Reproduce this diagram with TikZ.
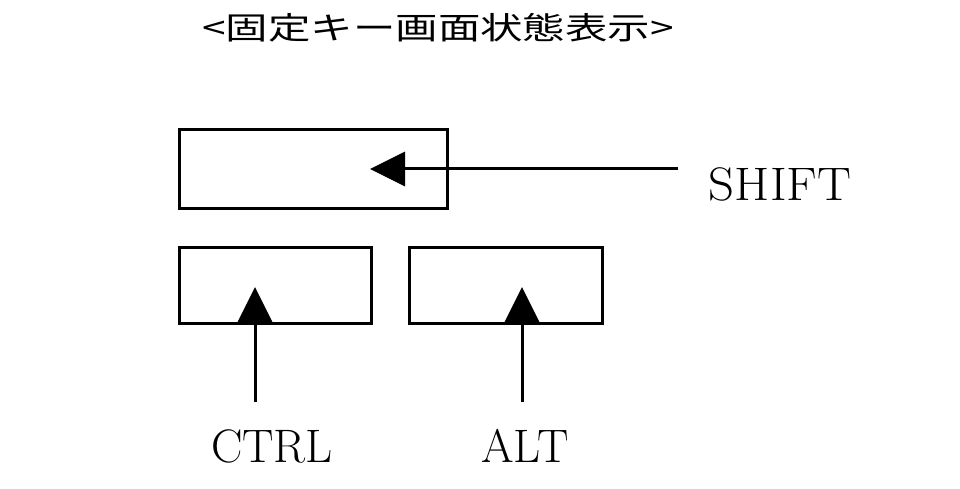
\documentclass[tikz,border=0pt]{standalone}
\usepackage{fontspec}
\newfontfamily\cjk{Noto Sans CJK JP}
\usetikzlibrary{arrows.meta}
\begin{document}
\begin{tikzpicture}[x=1pt,y=-1pt,
  keybox/.style={draw,line width=3pt,inner sep=0pt},
  ptr/.style={line width=3pt,-{Triangle[length=35pt,width=34pt]}},
  lbl/.style={font=\fontsize{47}{50}\selectfont,inner sep=0pt}]
\useasboundingbox (0,0) rectangle (960,489);
\node[inner sep=0pt] (title) at (438,28) {\scalebox{1.37}[1]{\cjk\fontsize{31}{34}\selectfont <固定キー画面状態表示>}};
\node[keybox,minimum width=268pt,minimum height=78pt] (shiftbox) at (313.5,169) {};
\node[keybox,minimum width=192pt,minimum height=76pt] (ctrlbox) at (275.5,285) {};
\node[keybox,minimum width=193pt,minimum height=76pt] (altbox) at (506,285) {};
\node[lbl] (shift) at (780,184) {\scalebox{1.08}[1]{SHIFT}};
\node[lbl] (ctrl) at (272,446) {CTRL};
\node[lbl] (alt) at (525,446) {ALT};
\coordinate (s0) at (678,169);
\coordinate (s1) at (370,169);
\coordinate (c0) at (255,402);
\coordinate (c1) at (255,287);
\coordinate (a0) at (522,402);
\coordinate (a1) at (522,287);
\draw[ptr] (s0) -- (s1);
\draw[ptr] (c0) -- (c1);
\draw[ptr] (a0) -- (a1);
\end{tikzpicture}
\end{document}
